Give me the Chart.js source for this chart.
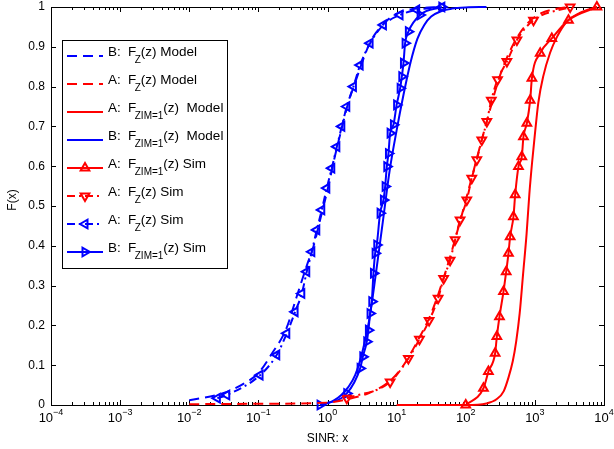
<!DOCTYPE html>
<html>
<head>
<meta charset="utf-8">
<script src="https://cdn.jsdelivr.net/npm/chart.js@4.4.1/dist/chart.umd.min.js"></script>
<style>
  body { margin: 0; background: #fff; }
  canvas { display: block; }
</style>
</head>
<body>
<canvas id="cdfChart" width="614" height="449"></canvas>
<script>
const BLUE = '#0000ff';
const RED = '#ff0000';
const FONT = "'Liberation Sans', Arial, Helvetica, sans-serif";

// axis ticks
const xTickExps = [-4, -3, -2, -1, 0, 1, 2, 3, 4];
const yTicks = [0, 0.1, 0.2, 0.3, 0.4, 0.5, 0.6, 0.7, 0.8, 0.9, 1];

// B: F_Z(z) Model
const bFzModelX = [0.01, 0.0316, 0.0631, 0.1, 0.158, 0.251, 0.355, 0.501, 0.631, 0.794, 1.0, 1.26, 1.58, 2.0, 2.51, 3.16, 3.98, 5.01, 6.31, 7.94, 10, 15.8, 25.1, 39.8];
const bFzModelY = [0.012, 0.03, 0.055, 0.08, 0.13, 0.19, 0.27, 0.35, 0.40, 0.47, 0.54, 0.62, 0.69, 0.76, 0.81, 0.86, 0.905, 0.935, 0.955, 0.972, 0.983, 0.994, 0.998, 1.0];

// A: F_Z(z) Model
const aFzModelX = [0.01, 0.1, 1, 1.995, 3.981, 7.943, 12.59, 19.95, 31.62, 50.12, 79.43, 125.9, 199.5, 316.2, 501.2, 794.3, 1259, 1995, 3162];
const aFzModelY = [0.002, 0.003, 0.006, 0.015, 0.03, 0.06, 0.1, 0.16, 0.23, 0.33, 0.45, 0.58, 0.71, 0.83, 0.91, 0.96, 0.985, 0.995, 1.0];

// A: F_ZIM=1(z) Model
const aZimModelX = [10, 100, 199.5, 281.8, 354.8, 416.9, 478.6, 537, 602.6, 676.1, 758.6, 831.8, 912.0, 1000, 1122, 1318, 1660, 2089, 2884, 4467, 7943];
const aZimModelY = [0, 0, 0.004, 0.015, 0.035, 0.07, 0.11, 0.16, 0.23, 0.33, 0.43, 0.53, 0.61, 0.68, 0.76, 0.825, 0.885, 0.925, 0.963, 0.985, 1.0];

// B: F_ZIM=1(z) Model
const bZimModelX = [0.794, 1.0, 1.259, 1.585, 1.995, 2.512, 3.162, 3.981, 5.012, 6.31, 7.943, 10, 12.59, 15.85, 19.95, 25.12, 31.62, 44.67, 63.1, 100, 199.5];
const bZimModelY = [0, 0.004, 0.012, 0.025, 0.045, 0.075, 0.13, 0.21, 0.33, 0.46, 0.59, 0.69, 0.78, 0.86, 0.92, 0.955, 0.976, 0.99, 0.996, 0.999, 1.0];

// A: F_ZIM=1(z) Sim
const aZimSimX = [100, 180.3, 212.8, 266.1, 281.8, 307.6, 351.6, 384.6, 415, 438.5, 489.8, 518.8, 579.4, 647.1, 683.9, 765.6, 855.1, 905.7, 1194, 1758, 3062, 7889];
const aZimSimY = [0, 0.042, 0.084, 0.13, 0.172, 0.222, 0.285, 0.335, 0.381, 0.423, 0.473, 0.528, 0.599, 0.624, 0.674, 0.708, 0.766, 0.821, 0.884, 0.921, 0.967, 1.0];

// A: F_Z(z) Sim (red)
const aFzSimX = [1.901, 8.054, 14.79, 21.38, 29.51, 39.81, 47.86, 59.43, 70.15, 82.79, 103.5, 122.2, 144.5, 170.6, 201.8, 234.4, 288.4, 393.6, 549.5, 955, 3236];
const aFzSimY = [0.017, 0.058, 0.117, 0.165, 0.212, 0.268, 0.318, 0.364, 0.415, 0.465, 0.515, 0.57, 0.616, 0.666, 0.712, 0.766, 0.817, 0.863, 0.917, 0.967, 1.0];

// A: F_Z(z) Sim (blue)
const aFzSimBlueX = [0.0255, 0.0349, 0.1057, 0.1845, 0.2576, 0.3396, 0.4246, 0.501, 0.5929, 0.6998, 0.826, 0.977, 1.153, 1.365, 1.611, 1.901, 2.371, 2.965, 4.13, 6.44, 11.2, 19.5, 45.1];
const aFzSimBlueY = [0.017, 0.025, 0.075, 0.126, 0.18, 0.234, 0.28, 0.335, 0.385, 0.44, 0.49, 0.545, 0.595, 0.649, 0.70, 0.75, 0.80, 0.854, 0.909, 0.955, 0.98, 0.993, 1.0];

// B: F_ZIM=1(z) Sim
const bZimSimX = [0.7816, 1.901, 2.965, 3.243, 3.698, 3.908, 4.13, 4.375, 4.624, 4.887, 5.164, 5.768, 6.442, 6.823, 7.211, 7.621, 8.054, 8.995, 10, 11.25, 11.89, 12.56, 13.27, 14.79, 21.88, 45.08];
const bZimSimY = [0, 0.029, 0.092, 0.121, 0.159, 0.188, 0.23, 0.26, 0.331, 0.381, 0.402, 0.482, 0.515, 0.549, 0.599, 0.632, 0.683, 0.704, 0.754, 0.796, 0.825, 0.859, 0.909, 0.938, 0.98, 1.0];

// legend text: prefix, subscript, rest
const legendPre = ['B:', 'A:', 'A:', 'B:', 'A:', 'A:', 'A:', 'B:'];
const legendSub = ['Z', 'Z', 'ZIM=1', 'ZIM=1', 'ZIM=1', 'Z', 'Z', 'ZIM=1'];
const legendPost = ['(z) Model', '(z) Model', '(z)  Model', '(z)  Model', '(z) Sim', '(z) Sim', '(z) Sim', '(z) Sim'];

const DASH = [10, 6];
const DASHDOT = [8, 4, 2, 4];

function pairs(xs, ys) {
  return xs.map((v, i) => ({ x: v, y: ys[i] }));
}

function curve(xs, ys, color, dash, rotation) {
  const marker = rotation !== null;
  return {
    data: pairs(xs, ys),
    borderColor: color,
    borderWidth: 2,
    borderDash: dash,
    borderJoinStyle: 'round',
    cubicInterpolationMode: 'monotone',
    pointStyle: 'triangle',
    pointRotation: marker ? rotation : 0,
    pointRadius: marker ? 5 : 0,
    pointHoverRadius: 0,
    pointBorderWidth: 2,
    pointBorderColor: color,
    pointBackgroundColor: 'rgba(0,0,0,0)',
    clip: false
  };
}

const datasets = [
  curve(bFzModelX, bFzModelY, BLUE, DASH, null),
  curve(aFzModelX, aFzModelY, RED, DASH, null),
  curve(aZimModelX, aZimModelY, RED, [], null),
  curve(bZimModelX, bZimModelY, BLUE, [], null),
  curve(aZimSimX, aZimSimY, RED, [], 0),
  curve(aFzSimX, aFzSimY, RED, DASHDOT, 180),
  curve(aFzSimBlueX, aFzSimBlueY, BLUE, DASHDOT, -90),
  curve(bZimSimX, bZimSimY, BLUE, [], 90)
];

// box, inward ticks and tick labels
const frame = {
  id: 'frame',
  beforeDatasetsDraw(chart) {
    const { ctx, chartArea: a, scales: { x, y } } = chart;
    ctx.save();
    ctx.strokeStyle = '#000';
    ctx.lineWidth = 1;
    ctx.beginPath();
    for (let d = -4; d <= 4; d++) {
      for (let k = 1; k <= 9; k++) {
        const v = k * Math.pow(10, d);
        if (v > 1e4) break;
        const px = Math.round(x.getPixelForValue(v)) + 0.5;
        const len = k === 1 ? 5 : 3;
        ctx.moveTo(px, a.bottom);
        ctx.lineTo(px, a.bottom - len);
        ctx.moveTo(px, a.top);
        ctx.lineTo(px, a.top + len);
      }
    }
    yTicks.forEach(t => {
      const py = Math.round(y.getPixelForValue(t)) + 0.5;
      ctx.moveTo(a.left, py);
      ctx.lineTo(a.left + 5, py);
      ctx.moveTo(a.right, py);
      ctx.lineTo(a.right - 5, py);
    });
    ctx.stroke();
    ctx.strokeRect(Math.round(a.left) + 0.5, Math.round(a.top) + 0.5, Math.round(a.width), Math.round(a.height));

    ctx.fillStyle = '#000';
    ctx.font = '12px ' + FONT;
    ctx.textAlign = 'right';
    ctx.textBaseline = 'middle';
    yTicks.forEach(t => {
      ctx.fillText(String(t), a.left - 6, y.getPixelForValue(t));
    });

    ctx.textAlign = 'left';
    ctx.textBaseline = 'alphabetic';
    xTickExps.forEach(e => {
      const px = x.getPixelForValue(Math.pow(10, e));
      const exp = e < 0 ? '\u2212' + Math.abs(e) : String(e);
      ctx.font = '13px ' + FONT;
      const wBase = ctx.measureText('10').width;
      ctx.font = '9px ' + FONT;
      const wExp = ctx.measureText(exp).width;
      const x0 = px - (wBase + wExp) / 2;
      ctx.font = '13px ' + FONT;
      ctx.fillText('10', x0, a.bottom + 17);
      ctx.font = '9px ' + FONT;
      ctx.fillText(exp, x0 + wBase, a.bottom + 10);
    });

    ctx.font = '12px ' + FONT;
    ctx.textAlign = 'center';
    ctx.fillText('SINR: x', (a.left + a.right) / 2, a.bottom + 37);
    ctx.translate(16, 200);
    ctx.rotate(-Math.PI / 2);
    ctx.fillText('F(x)', 0, 0);
    ctx.restore();
  },
  afterDraw(chart) {
    const ctx = chart.ctx;
    const left = 62, top = 40, right = 227, bottom = 268;
    ctx.save();
    ctx.fillStyle = '#fff';
    ctx.fillRect(left, top, right - left, bottom - top);
    ctx.strokeStyle = '#000';
    ctx.lineWidth = 1;
    ctx.strokeRect(left + 0.5, top + 0.5, right - left, bottom - top);

    datasets.forEach((ds, i) => {
      const ly = 56 + i * 28;
      ctx.strokeStyle = ds.borderColor;
      ctx.lineWidth = 2;
      ctx.setLineDash(ds.borderDash);
      ctx.beginPath();
      ctx.moveTo(67, ly);
      ctx.lineTo(103, ly);
      ctx.stroke();
      ctx.setLineDash([]);
      if (ds.pointRadius > 0) {
        ctx.fillStyle = 'rgba(0,0,0,0)';
        Chart.helpers.drawPoint(ctx, {
          pointStyle: 'triangle',
          rotation: ds.pointRotation,
          radius: 5,
          borderWidth: 2
        }, 85, ly);
      }

      ctx.fillStyle = '#000';
      ctx.textAlign = 'left';
      ctx.textBaseline = 'alphabetic';
      ctx.font = '13.5px ' + FONT;
      ctx.fillText(legendPre[i], 108, ly);
      let tx = 128;
      ctx.fillText('F', tx, ly);
      tx += ctx.measureText('F').width - 1.5;
      ctx.font = '10px ' + FONT;
      ctx.fillText(legendSub[i], tx, ly + 7);
      tx += ctx.measureText(legendSub[i]).width;
      ctx.font = '13.5px ' + FONT;
      ctx.fillText(legendPost[i], tx, ly);
    });
    ctx.restore();
  }
};

Chart.defaults.font.family = FONT;

new Chart(document.getElementById('cdfChart'), {
  type: 'line',
  data: { datasets: datasets },
  options: {
    responsive: false,
    devicePixelRatio: 1,
    animation: false,
    layout: { padding: { left: 51, top: 7, right: 10, bottom: 44 } },
    scales: {
      x: { type: 'logarithmic', min: 1e-4, max: 1e4, display: false },
      y: { type: 'linear', min: 0, max: 1, display: false }
    },
    plugins: {
      legend: { display: false },
      tooltip: { enabled: false }
    }
  },
  plugins: [frame]
});
</script>
</body>
</html>
